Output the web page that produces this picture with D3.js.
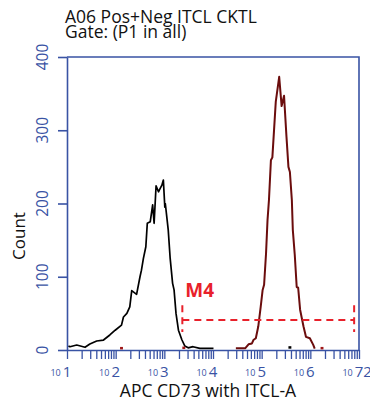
<!DOCTYPE html>
<html>
<head>
<meta charset="utf-8">
<script src="https://cdn.jsdelivr.net/npm/d3@7"></script>
<style>
  body { margin: 0; background: #fff; }
  text { font-family: "Open Sans", sans-serif; }
</style>
</head>
<body>
<svg id="chart" width="370" height="403"></svg>
<script>
// histogram of the negative (unstained) sample: log10 of intensity, count
const negLog = [1.03, 1.06, 1.20, 1.37, 1.47, 1.61, 1.75, 1.88, 1.99, 2.12, 2.16, 2.23, 2.29, 2.33, 2.43, 2.50,
  2.53, 2.57, 2.62, 2.65, 2.71, 2.76, 2.79, 2.83, 2.88, 2.91, 2.95, 2.98, 3.01, 3.02, 3.08, 3.12, 3.17,
  3.20, 3.24, 3.29, 3.36, 3.42, 3.49, 3.59, 3.73, 4.01];
const negCount = [5.5, 4.5, 6.8, 3.7, 8.2, 12.3, 13.6, 20.5, 27, 34, 45, 50, 59, 81, 76, 100,
  109, 125, 141, 173, 175, 198, 173, 224, 216, 220, 225, 232, 195, 200, 164, 125, 91,
  82, 50, 27, 14, 5.5, 3, 4.5, 2.3, 2.3];

// histogram of the positive (stained) sample
const posLog = [4.47, 4.66, 4.73, 4.80, 4.83, 4.88, 4.93, 4.98, 5.02, 5.05, 5.09, 5.12, 5.15, 5.19, 5.22,
  5.29, 5.36, 5.41, 5.46, 5.51, 5.55, 5.58, 5.62, 5.64, 5.68, 5.72, 5.75, 5.79, 5.82, 5.86, 5.91,
  5.99, 6.06, 6.09];
const posCount = [2.3, 2.3, 7.8, 9, 13.6, 16, 32, 59, 82, 89, 132, 177, 205, 259, 263,
  339, 373, 333, 347, 291, 250, 243, 205, 164, 130, 86, 85, 55, 45, 32, 18,
  16, 7, 2];

// isolated single-bin events
const blipLog = [2.12, 3.40, 5.58, 6.24];
const blipCount = [2.5, 3, 3.5, 2.5];
const blipSample = ['pos', 'pos', 'neg', 'pos'];

// marker M4 (gate)
const gateName = 'M4';
const gateFrom = Math.pow(10, 3.37);
const gateTo = Math.pow(10, 6.90);
const gateLevel = 41;
const gateTop = 61;
const gateBottom = 24.5;

const yTicks = [0, 100, 200, 300, 400];
const xDecades = [1, 2, 3, 4, 5, 6, 7];
const xExponents = ['1', '2', '3', '4', '5', '6', '72'];

const titleLines = ['A06 Pos+Neg ITCL CKTL', 'Gate: (P1 in all)'];
const xTitle = 'APC CD73 with ITCL-A';
const yTitle = 'Count';

const blue = '#3953a4';
const negColor = '#000000';
const posColor = '#6b0d0d';
const gateColor = '#e8212b';

const svg = d3.select('#chart');

const x = d3.scaleLog().domain([10, 1e7]).range([67, 359]);
const y = d3.scaleLinear().domain([0, 400]).range([350, 57]);

// title, one text per line
svg.append('g').selectAll('text')
  .data(titleLines)
  .enter().append('text')
  .attr('x', 65)
  .attr('y', (d, i) => 23 + i * 15)
  .attr('font-size', 17.5)
  .attr('fill', '#111')
  .text(d => d);

// x axis ticks (minor 2..9 and decades)
const xTickVals = [];
xDecades.forEach(k => {
  for (let m = 1; m <= 9; m++) {
    const v = m * Math.pow(10, k);
    if (v <= 1e7) xTickVals.push(v);
  }
});

const xAxis = svg.append('g')
  .attr('transform', 'translate(0,350)')
  .call(d3.axisBottom(x).tickValues(xTickVals).tickSize(9).tickSizeOuter(0).tickFormat(''));
xAxis.select('.domain').attr('stroke', blue).attr('stroke-width', 1.6);
xAxis.selectAll('.tick line').attr('stroke', blue).attr('stroke-width', 1.3);

const yAxis = svg.append('g')
  .attr('transform', 'translate(67,0)')
  .call(d3.axisLeft(y).tickValues(yTicks).tickSize(9).tickSizeOuter(0).tickFormat(''));
yAxis.select('.domain').attr('stroke', blue).attr('stroke-width', 1.6);
yAxis.selectAll('.tick line').attr('stroke', blue).attr('stroke-width', 1.6);

// top and right frame
svg.append('path')
  .attr('d', `M${x.range()[0]},${y(400)}H${x.range()[1]}V${y(0)}`)
  .attr('fill', 'none')
  .attr('stroke', blue)
  .attr('stroke-width', 1.6);

// y tick labels, rotated
svg.append('g').selectAll('text')
  .data(yTicks)
  .enter().append('text')
  .attr('transform', d => `translate(48,${y(d)}) rotate(-90)`)
  .attr('text-anchor', 'middle')
  .attr('font-size', 15.5)
  .attr('fill', blue)
  .text(d => d);

// x tick labels: small "10" followed by a large exponent, in one text
const xl = svg.append('g');
xDecades.forEach((k, i) => {
  const tx = x(Math.pow(10, k));
  const t = xl.append('text')
    .attr('y', 377)
    .attr('fill', blue);
  const base = t.append('tspan')
    .attr('font-size', 9)
    .attr('dy', -1)
    .text('10');
  const ex = t.append('tspan')
    .attr('font-size', 15)
    .attr('dx', 2)
    .attr('dy', 1)
    .text(xExponents[i]);
  const baseW = base.node().getComputedTextLength();
  const first = ex.node().getSubStringLength(0, 1);
  t.attr('x', tx - first / 2 - 2 - baseW);
});

// axis titles
svg.append('text')
  .attr('x', 208)
  .attr('y', 397)
  .attr('text-anchor', 'middle')
  .attr('font-size', 17.5)
  .attr('fill', '#111')
  .text(xTitle);

svg.append('text')
  .attr('transform', 'translate(25,236) rotate(-90)')
  .attr('text-anchor', 'middle')
  .attr('font-size', 17)
  .attr('fill', '#111')
  .text(yTitle);

// histograms
const line = d3.line()
  .x(d => x(Math.pow(10, d[0])))
  .y(d => y(d[1]));

svg.append('path')
  .datum(negLog.map((v, i) => [v, negCount[i]]))
  .attr('d', line)
  .attr('fill', 'none')
  .attr('stroke', negColor)
  .attr('stroke-width', 1.7)
  .attr('stroke-linejoin', 'round');

svg.append('path')
  .datum(posLog.map((v, i) => [v, posCount[i]]))
  .attr('d', line)
  .attr('fill', 'none')
  .attr('stroke', posColor)
  .attr('stroke-width', 2)
  .attr('stroke-linejoin', 'round');

svg.append('g').selectAll('path')
  .data(blipLog.map((v, i) => ({ v, c: blipCount[i], s: blipSample[i] })))
  .enter().append('path')
  .attr('d', d => line([[d.v - 0.03, d.c], [d.v + 0.03, d.c]]))
  .attr('stroke', d => d.s === 'pos' ? '#a01818' : negColor)
  .attr('stroke-width', 2.5);

// gate marker
const gate = svg.append('g')
  .attr('stroke', gateColor)
  .attr('stroke-width', 2)
  .attr('stroke-dasharray', '7,5')
  .attr('fill', 'none');
gate.append('line')
  .attr('x1', x(gateFrom)).attr('x2', x(gateTo))
  .attr('y1', y(gateLevel)).attr('y2', y(gateLevel));
[gateFrom, gateTo].forEach(v => {
  gate.append('line')
    .attr('x1', x(v)).attr('x2', x(v))
    .attr('y1', y(gateTop)).attr('y2', y(gateBottom));
});

svg.append('text')
  .attr('x', x(gateFrom) + 3)
  .attr('y', 297)
  .attr('font-size', 19)
  .attr('font-weight', 'bold')
  .attr('fill', gateColor)
  .text(gateName);
</script>
</body>
</html>
